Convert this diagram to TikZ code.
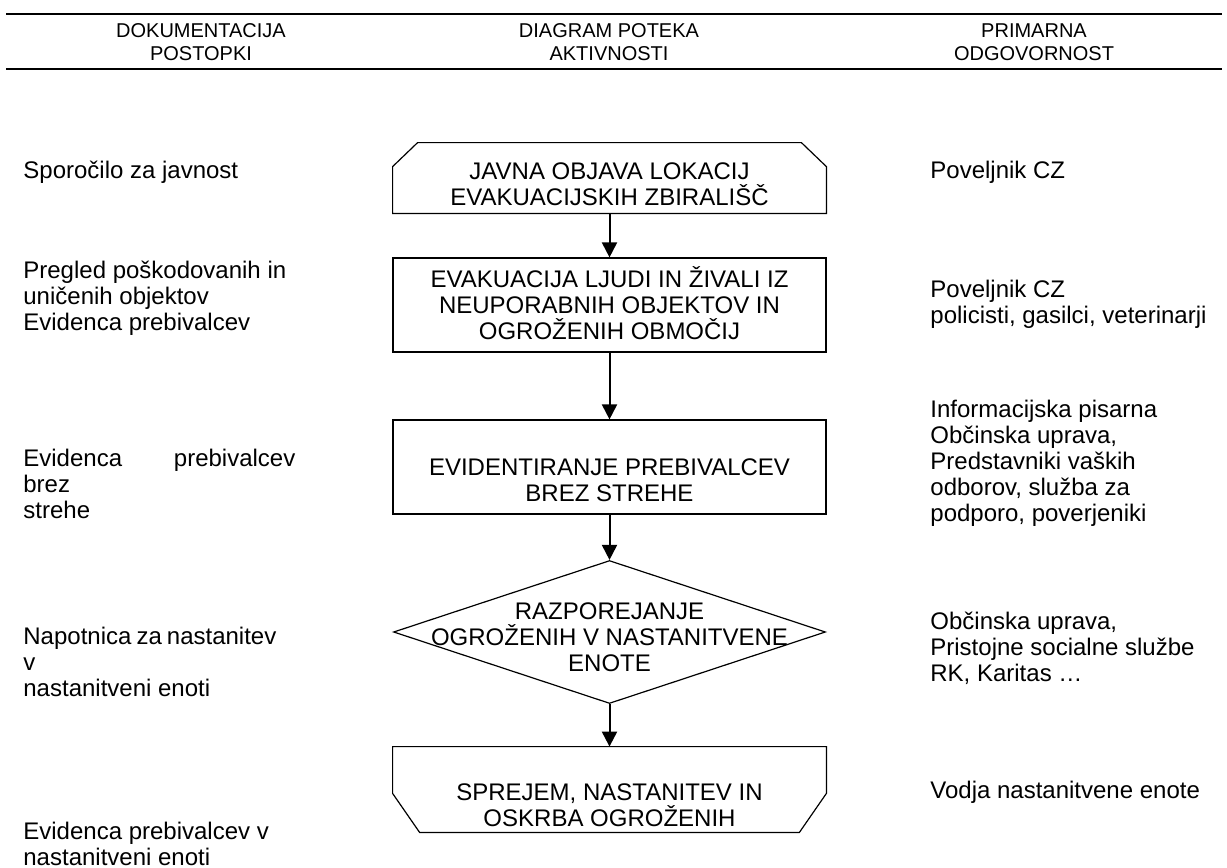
\documentclass[tikz,border=0pt]{standalone}
\usepackage{fontspec}
\setmainfont{Liberation Sans}
\usetikzlibrary{shapes.geometric, arrows.meta, positioning, calc}

\begin{document}
\begin{tikzpicture}[
    x = 0.5pt, y = -0.5pt,                  % 1 unit = 1 px of the page
    every node/.style = {font=\fontsize{12}{13}\selectfont, inner sep=0pt},
    process/.style   = {rectangle, draw, line width=0.6pt,
                        minimum width=216.5pt, minimum height=47pt},
    terminal/.style  = {rectangle, minimum width=216.5pt},
    outline/.style   = {line width=0.6pt},
    decision/.style  = {diamond, draw, line width=0.6pt,
                        minimum width=216pt, minimum height=71.5pt},
    boxtext/.style   = {align=center},
    note/.style      = {anchor=west, align=left},
    header/.style    = {align=center, font=\fontsize{10}{11.3}\selectfont},
    rule/.style      = {line width=1.3pt},
    solidarrow/.style  = {-{Triangle[width=7.5pt,length=7.5pt]}, line width=1pt}
  ]
  \useasboundingbox (0,0) rectangle (1227,868);

  % header
  \draw[rule] (6,14) -- (1222,14);
  \draw[rule] (6,69) -- (1222,69);
  \node[header] (hdoc)  at (201,42)  {DOKUMENTACIJA\\POSTOPKI};
  \node[header] (hdiag) at (609,42)  {DIAGRAM POTEKA\\AKTIVNOSTI};
  \node[header] (hprim) at (1034,42) {PRIMARNA\\ODGOVORNOST};

  % diagram
  \node[terminal, minimum height=35pt]   (objava)  at (609.5,178)   {};
  \node[process]                         (evak)    at (609.5,305)   {};
  \node[process]                         (evid)    at (609.5,467)   {};
  \node[decision]                        (razp)    at (609.5,632)   {};
  \node[terminal, minimum height=42.5pt] (sprejem) at (609.5,789.5) {};

  % cut corners: top ones on the first box, bottom ones on the last
  \draw[outline] (objava.south west) -- ($(objava.north west)+(0,24)$)
      -- ($(objava.north west)+(25,0)$) -- ($(objava.north east)+(-25,0)$)
      -- ($(objava.north east)+(0,24)$) -- (objava.south east) -- cycle;
  \draw[outline] (sprejem.north west) -- ($(sprejem.south west)+(0,-39)$)
      -- ($(sprejem.south west)+(27,0)$) -- ($(sprejem.south east)+(-27,0)$)
      -- ($(sprejem.south east)+(0,-39)$) -- (sprejem.north east) -- cycle;

  \node[boxtext] (objavatxt)  at (609.5,184) {JAVNA OBJAVA LOKACIJ\\EVAKUACIJSKIH ZBIRALIŠČ};
  \node[boxtext] (evaktxt)    at (609.5,303) {EVAKUACIJA LJUDI IN ŽIVALI IZ\\NEUPORABNIH OBJEKTOV IN\\OGROŽENIH OBMOČIJ};
  \node[boxtext] (evidtxt)    at (609.5,480) {EVIDENTIRANJE PREBIVALCEV\\BREZ STREHE};
  \node[boxtext] (razptxt)    at (609.5,637) {RAZPOREJANJE\\OGROŽENIH V NASTANITVENE\\ENOTE};
  \node[boxtext] (sprejemtxt) at (609.5,805) {SPREJEM, NASTANITEV IN\\OSKRBA OGROŽENIH};

  \draw[solidarrow] (objava) -- (evak);
  \draw[solidarrow] (evak) -- (evid);
  \draw[solidarrow] (evid) -- (razp);
  \draw[solidarrow] (razp) -- (sprejem);

  % documentation
  \node[note] (sporocilo) at (23,172) {Sporočilo za javnost};
  \node[note] (pregled)   at (23,298) {Pregled poškodovanih in\\uničenih objektov\\Evidenca prebivalcev};
  \node[note] (evidbrez)  at (23,484) {\hbox to 136pt{Evidenca\hfill prebivalcev}\\brez\\strehe};
  \node[note] (napot)     at (23,662) {\hbox to 126.5pt{Napotnica\hfill za\hfill nastanitev}\\v\\nastanitveni enoti};
  \node[note] (evidenota) at (23,844) {Evidenca prebivalcev v\\nastanitveni enoti};

  % responsibility
  \node[note] (povelj)  at (930,172) {Poveljnik CZ};
  \node[note] (povsluz) at (930,304) {Poveljnik CZ\\policisti, gasilci, veterinarji};
  \node[note] (info)    at (930,463) {Informacijska pisarna\\Občinska uprava,\\Predstavniki vaških\\odborov, služba za\\podporo, poverjeniki};
  \node[note] (obcina)  at (930,648) {Občinska uprava,\\Pristojne socialne službe\\RK, Karitas …};
  \node[note] (vodja)   at (930,792) {Vodja nastanitvene enote};

\end{tikzpicture}
\end{document}
